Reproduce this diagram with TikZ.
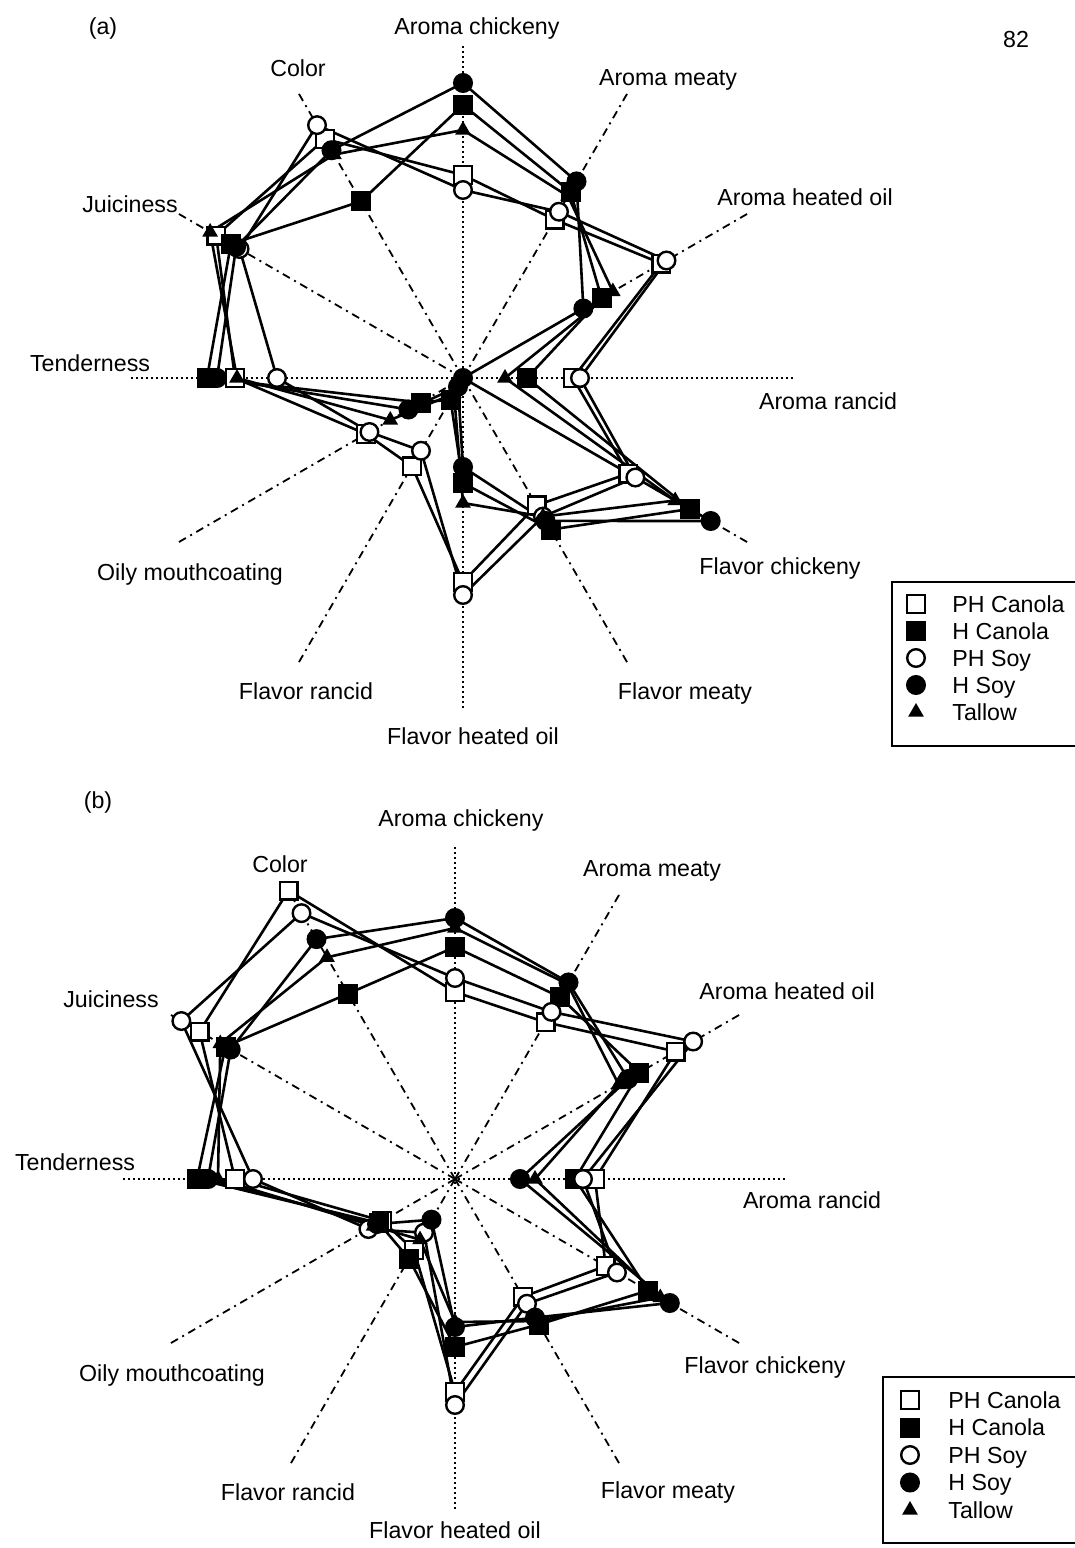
\documentclass[tikz,border=0pt]{standalone}
\usepackage{fontspec}
\setmainfont{Liberation Sans}
\usetikzlibrary{calc}
\usetikzlibrary{shapes.geometric}

\tikzset{
  lbl/.style={font=\fontsize{11.6}{14}\selectfont, inner sep=0pt},
  keytext/.style={lbl, anchor=west, text height=8.3pt, text depth=0pt},
  spoke/.style={line width=0.9pt, dash pattern=on 4pt off 2.5pt on 1pt off 2.5pt},
  axisline/.style={line width=0.9pt, dash pattern=on 0.9pt off 1.6pt},
  dataline/.style={line width=1.3pt, line join=round},
  mk/.style={draw=black, line width=1.2pt, inner sep=0pt},
  phcanola/.style={mk, rectangle, fill=white, minimum size=8.8pt},
  hcanola/.style={mk, rectangle, fill=black, minimum size=8.8pt},
  phsoy/.style={mk, circle, fill=white, minimum size=8.8pt},
  hsoy/.style={mk, circle, fill=black, minimum size=8.8pt},
  tallow/.style={regular polygon, regular polygon sides=3, fill=black, inner sep=0pt, minimum size=9pt},
}

% twelve spokes round a centre: #1 prefix, #2 centre
\newcommand{\drawspokes}[2]{%
  \foreach \k in {0,...,11}
    \coordinate (#1e\k) at ($(#2)+({332*sin(30*\k)},{-332*cos(30*\k)})$);
  \foreach \k in {1,2,4,5,7,8,10,11}
    \draw[spoke] (#2) -- (#1e\k);
  \draw[axisline] (#1e0) -- (#1e6);
  \draw[axisline] (#1e9) -- (#1e3);
}
% one product: #1 name, #2 centre, #3 twelve scores
\newcommand{\drawprofile}[3]{%
  \foreach \rad [count=\k from 0] in {#3}
    \coordinate (#1\k) at ($(#2)+({\rad*sin(30*\k)},{-\rad*cos(30*\k)})$);
  \draw[dataline] (#10) \foreach \k in {1,...,11} {-- (#1\k)} -- cycle;
}
\newcommand{\putmarks}[2]{%
  \foreach \k in {0,...,11}
    \node[#2] (m#1\k) at (#1\k) {};
}

\begin{document}
\begin{tikzpicture}[x=0.5pt, y=-0.5pt]
\useasboundingbox (0,0) rectangle (1075,1548);
\coordinate (ca) at (463,378);
\coordinate (cb) at (455,1179);

\drawspokes{a}{ca}
\drawspokes{b}{cb}

% chart (a)
\drawprofile{aPHC}{ca}{203,183,229,110,191,147,204,102,112,228,285,276}
\drawprofile{aHC}{ca}{273,215,160,64,262,175,105,25,49,256,268,204}
\drawprofile{aPHS}{ca}{188,192,235,117,199,160,217,84,108,186,258,292}
\drawprofile{aHS}{ca}{295,227,139,0,286,165,89,10,63,246,262,263}
\drawprofile{aT}{ca}{248,210,173,42,245,160,125,18,84,226,292,258}

% chart (b)
\drawprofile{bPHC}{cb}{187,181,255,140,174,136,213,82,84,220,295,333}
\drawprofile{bHC}{cb}{232,210,213,120,223,168,168,92,88,258,265,214}
\drawprofile{bPHS}{cb}{201,193,275,128,187,144,226,62,100,202,316,307}
\drawprofile{bHS}{cb}{261,227,200,65,248,160,148,47,90,247,259,277}
\drawprofile{bT}{cb}{251,225,189,80,237,164,143,70,94,237,271,256}

\putmarks{aPHC}{phcanola}
\putmarks{aHC}{hcanola}
\putmarks{aPHS}{phsoy}
\putmarks{aHS}{hsoy}
\putmarks{aT}{tallow}
\putmarks{bPHC}{phcanola}
\putmarks{bHC}{hcanola}
\putmarks{bPHS}{phsoy}
\putmarks{bHS}{hsoy}
\putmarks{bT}{tallow}

% labels (a)
\node[lbl] (ta) at (103,28) {(a)};
\node[lbl] (page) at (1016,40) {82};
\node[lbl] (a-ac) at (477,28) {Aroma chickeny};
\node[lbl] (a-col) at (298,68) {Color};
\node[lbl] (a-am) at (668,80) {Aroma meaty};
\node[lbl] (a-jui) at (130,204) {Juiciness};
\node[lbl] (a-aho) at (805,197) {Aroma heated oil};
\node[lbl] (a-ten) at (90,363) {Tenderness};
\node[lbl] (a-ar) at (828,401) {Aroma rancid};
\node[lbl] (a-fc) at (780,568) {Flavor chickeny};
\node[lbl] (a-om) at (190,574) {Oily mouthcoating};
\node[lbl] (a-fr) at (306,691) {Flavor rancid};
\node[lbl] (a-fm) at (685,693) {Flavor meaty};
\node[lbl] (a-fho) at (473,736) {Flavor heated oil};

% labels (b)
\node[lbl] (tb) at (98,802) {(b)};
\node[lbl] (b-ac) at (461,820) {Aroma chickeny};
\node[lbl] (b-col) at (280,864) {Color};
\node[lbl] (b-am) at (652,871) {Aroma meaty};
\node[lbl] (b-aho) at (787,991) {Aroma heated oil};
\node[lbl] (b-jui) at (111,999) {Juiciness};
\node[lbl] (b-ten) at (75,1162) {Tenderness};
\node[lbl] (b-ar) at (812,1200) {Aroma rancid};
\node[lbl] (b-fc) at (765,1367) {Flavor chickeny};
\node[lbl] (b-om) at (172,1375) {Oily mouthcoating};
\node[lbl] (b-fr) at (288,1492) {Flavor rancid};
\node[lbl] (b-fm) at (668,1492) {Flavor meaty};
\node[lbl] (b-fho) at (455,1530) {Flavor heated oil};

% keys
\draw[line width=1pt] (892,582) rectangle (1085,746);
\draw[line width=1pt] (883,1377) rectangle (1085,1543);
\foreach \s/\t [count=\n from 0] in {phcanola/PH Canola, hcanola/H Canola, phsoy/PH Soy, hsoy/H Soy, tallow/Tallow}
{
  \node[\s] (ka\n) at (916,{604+27*\n}) {};
  \node[keytext] (kta\n) at (952,{604+27*\n}) {\t};
  \node[\s] (kb\n) at (910,{1400+27.5*\n}) {};
  \node[keytext] (ktb\n) at (948,{1400+27.5*\n}) {\t};
}
\end{tikzpicture}
\end{document}
